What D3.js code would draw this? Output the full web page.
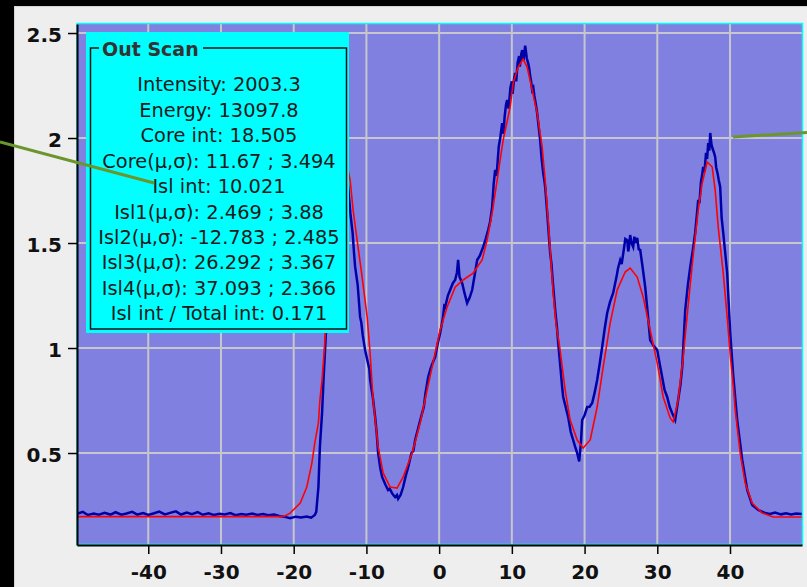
<!DOCTYPE html>
<html>
<head>
<meta charset="utf-8">
<script src="https://cdn.jsdelivr.net/npm/d3@7"></script>
<style>
  body { margin: 0; background: #000; }
  svg { display: block; }
</style>
</head>
<body>
<div id="chart"></div>
<script>
// measured scan (blue) as [position, value]
var scanPoints = [
  [-49.8, 0.21], [-49, 0.22], [-48.3, 0.205], [-47.5, 0.212], [-46.8, 0.206], [-46, 0.215],
  [-45.2, 0.207], [-44.5, 0.218], [-43.7, 0.206], [-43, 0.212], [-42.2, 0.22], [-41.5, 0.207],
  [-40.7, 0.214], [-40, 0.205], [-39.2, 0.213], [-38.5, 0.221], [-37.7, 0.208], [-37, 0.215],
  [-36.2, 0.222], [-35.5, 0.207], [-34.7, 0.216], [-34, 0.209], [-33.2, 0.219], [-32.5, 0.206],
  [-31.7, 0.213], [-31, 0.205], [-30.2, 0.211], [-29.5, 0.207], [-28.7, 0.214], [-28, 0.204],
  [-27.2, 0.21], [-26.5, 0.206], [-25.7, 0.212], [-25, 0.205], [-24.2, 0.21], [-23.5, 0.204],
  [-22.7, 0.207], [-22, 0.2], [-21.2, 0.196], [-20.5, 0.19], [-19.7, 0.197], [-19, 0.193],
  [-18.2, 0.198], [-17.6, 0.192], [-17.1, 0.205], [-16.9, 0.22], [-16.6, 0.338], [-16.4, 0.529],
  [-16.1, 0.69], [-15.9, 0.848], [-15.6, 1.05], [-15, 1.4], [-14, 1.75], [-13, 1.85], [-12.6, 1.8],
  [-12.2, 1.64], [-11.9, 1.55], [-11.7, 1.45], [-11.55, 1.386], [-11.2, 1.3], [-10.87, 1.148],
  [-10.7, 1.12], [-10.5, 1.06], [-10.18, 0.99], [-9.8, 0.93], [-9.6, 0.9], [-9.49, 0.848],
  [-9.1, 0.76], [-8.8, 0.671], [-8.6, 0.6], [-8.39, 0.5], [-8.1, 0.43], [-7.84, 0.386],
  [-7.4, 0.35], [-7.02, 0.324], [-6.8, 0.33], [-6.5, 0.31], [-6.3, 0.3], [-6.05, 0.29],
  [-5.8, 0.3], [-5.64, 0.282], [-5.3, 0.3], [-4.95, 0.338], [-4.6, 0.39], [-4.26, 0.433],
  [-3.8, 0.5], [-3.55, 0.51], [-3.3, 0.562], [-2.8, 0.63], [-2.34, 0.69], [-2.1, 0.72],
  [-1.9, 0.78], [-1.51, 0.862], [-1.2, 0.9], [-1, 0.92], [-0.55, 0.957], [-0.2, 1.02],
  [0.14, 1.071], [0.5, 1.14], [0.7, 1.2], [0.83, 1.195], [1.2, 1.25], [1.51, 1.276],
  [1.9, 1.31], [2.2, 1.324], [2.45, 1.36], [2.61, 1.42], [2.8, 1.34], [3.16, 1.31],
  [3.5, 1.26], [3.85, 1.214], [4.2, 1.24], [4.54, 1.276], [4.9, 1.35], [5.23, 1.419],
  [5.6, 1.44], [6.05, 1.481], [6.4, 1.52], [6.74, 1.562], [7.0, 1.6], [7.29, 1.671],
  [7.5, 1.78], [7.7, 1.848], [7.9, 1.82], [8.2, 1.96], [8.4, 2.0], [8.67, 2.071],
  [8.85, 2.02], [9.0, 2.1], [9.2, 2.16], [9.35, 2.181], [9.55, 2.14], [9.8, 2.24],
  [10.0, 2.27], [10.1, 2.21], [10.3, 2.28], [10.45, 2.31], [10.6, 2.27], [10.8, 2.36],
  [11.0, 2.39], [11.1, 2.34], [11.3, 2.4], [11.42, 2.419], [11.6, 2.37], [11.83, 2.44],
  [11.95, 2.41], [12.05, 2.38], [12.24, 2.357], [12.4, 2.33], [12.5, 2.3], [12.65, 2.27],
  [12.79, 2.229], [12.95, 2.24], [13.1, 2.2], [13.3, 2.16], [13.48, 2.119], [13.7, 2.05],
  [13.89, 1.99], [14.1, 1.9], [14.31, 1.833], [14.5, 1.79], [14.6, 1.76], [14.86, 1.643],
  [15.27, 1.452], [15.45, 1.4], [15.6, 1.33], [15.96, 1.181], [16.2, 1.1], [16.37, 1.024],
  [16.7, 0.9], [16.9, 0.82], [17.06, 0.767], [17.4, 0.72], [17.74, 0.671], [18.1, 0.6],
  [18.43, 0.562], [18.7, 0.53], [18.98, 0.5], [19.26, 0.46], [19.5, 0.55], [19.67, 0.657],
  [20.0, 0.68], [20.36, 0.719], [20.7, 0.72], [21.05, 0.738], [21.4, 0.79], [21.73, 0.848],
  [22.1, 0.93], [22.42, 1.005], [22.8, 1.1], [23.11, 1.167], [23.5, 1.22], [23.93, 1.262],
  [24.4, 1.34], [24.6, 1.38], [24.9, 1.419], [25.1, 1.4], [25.4, 1.47], [25.6, 1.52],
  [25.86, 1.514], [26.0, 1.46], [26.1, 1.48], [26.27, 1.538], [26.45, 1.5], [26.68, 1.481],
  [26.85, 1.53], [27.0, 1.5], [27.24, 1.524], [27.45, 1.47], [27.65, 1.467], [27.8, 1.43],
  [28.0, 1.38], [28.34, 1.29], [28.7, 1.16], [29.02, 1.038], [29.5, 1.01], [29.99, 0.99],
  [30.3, 0.93], [30.67, 0.862], [31.0, 0.8], [31.36, 0.767], [31.7, 0.72], [32.05, 0.69],
  [32.46, 0.657], [32.87, 0.752], [33.2, 0.83], [33.43, 0.91], [33.84, 1.181], [34.2, 1.3],
  [34.53, 1.386], [34.9, 1.47], [35.21, 1.548], [35.4, 1.62], [35.63, 1.705], [35.8, 1.69],
  [36.0, 1.79], [36.15, 1.82], [36.31, 1.862], [36.5, 1.84], [36.7, 1.93], [36.85, 1.9],
  [37.0, 1.976], [37.15, 1.94], [37.28, 2.024], [37.45, 1.97], [37.6, 1.95], [37.8, 1.93],
  [37.96, 1.91], [38.1, 1.86], [38.3, 1.83], [38.45, 1.8], [38.65, 1.767], [38.85, 1.62],
  [39.07, 1.548], [39.61, 1.357], [40.03, 1.071], [40.44, 0.871], [40.99, 0.657], [41.68, 0.467],
  [42.37, 0.324], [43.05, 0.252], [43.88, 0.229], [44.84, 0.214], [45.5, 0.21], [46.2, 0.216],
  [47, 0.208], [47.7, 0.213], [48.4, 0.207], [49.1, 0.212], [49.9, 0.21]
];

// fitted curve (red) as [position, value]
var fitPoints = [
  [-49.8, 0.197], [-22, 0.197], [-21.2, 0.2], [-20.5, 0.214], [-19.1, 0.262], [-18.2, 0.338],
  [-17.5, 0.452], [-17.1, 0.548], [-16.6, 0.643], [-16.4, 0.752], [-16.1, 0.848], [-15.8, 0.99],
  [-15.5, 1.13], [-14.5, 1.5], [-13.5, 1.85], [-13, 1.88], [-12.6, 1.86], [-12.24, 1.8],
  [-11.83, 1.657], [-11.28, 1.514], [-10.59, 1.338], [-9.9, 1.148], [-9.5, 0.98], [-9.08, 0.752],
  [-8.39, 0.529], [-7.7, 0.405], [-6.74, 0.338], [-5.78, 0.333], [-4.95, 0.386], [-3.71, 0.5],
  [-2.61, 0.643], [-1.65, 0.8], [-0.55, 0.976], [0.14, 1.086], [1.1, 1.195], [2.2, 1.29],
  [3.3, 1.324], [4.68, 1.357], [5.91, 1.419], [6.6, 1.514], [7.29, 1.643], [7.98, 1.8],
  [8.8, 1.99], [9.77, 2.148], [10.18, 2.262], [10.87, 2.338], [11.55, 2.376], [12.1, 2.338],
  [12.79, 2.229], [13.48, 2.119], [14.17, 1.957], [14.58, 1.8], [14.99, 1.61], [15.27, 1.467],
  [15.68, 1.262], [16.09, 1.11], [16.64, 0.99], [17.33, 0.8], [18.02, 0.657], [18.98, 0.562],
  [19.81, 0.524], [20.77, 0.562], [21.73, 0.719], [22.56, 0.91], [23.52, 1.119], [24.48, 1.276],
  [25.58, 1.362], [26.27, 1.381], [27.24, 1.338], [28.06, 1.243], [29.02, 1.086], [29.99, 0.929],
  [30.81, 0.767], [31.77, 0.667], [32.19, 0.648], [32.87, 0.752], [33.56, 0.957], [34.25, 1.205],
  [34.94, 1.443], [35.63, 1.657], [36.18, 1.786], [36.86, 1.886], [37.55, 1.862], [37.96, 1.752],
  [38.38, 1.576], [39.07, 1.357], [39.61, 1.148], [40.03, 0.967], [40.44, 0.824], [40.72, 0.705],
  [41.4, 0.5], [42.09, 0.357], [43.05, 0.262], [44.43, 0.214], [45.94, 0.195], [49.9, 0.195]
];

var xTicks = [-40, -30, -20, -10, 0, 10, 20, 30, 40];
var yTicks = [0.5, 1, 1.5, 2, 2.5];
var boxTitle = "Out Scan";
var boxLines = [
  "Intensity: 2003.3",
  "Energy: 13097.8",
  "Core int: 18.505",
  "Core(\u03bc,\u03c3): 11.67 ; 3.494",
  "Isl int: 10.021",
  "Isl1(\u03bc,\u03c3): 2.469 ; 3.88",
  "Isl2(\u03bc,\u03c3): -12.783 ; 2.485",
  "Isl3(\u03bc,\u03c3): 26.292 ; 3.367",
  "Isl4(\u03bc,\u03c3): 37.093 ; 2.366",
  "Isl int / Total int: 0.171"
];

function init() {
    var w = 807;
    var h = 587;
    var left = 77, right = 802, top = 24, bottom = 545;

    var svg = d3.select("#chart")
            .append("svg")
            .attr("width", w)
            .attr("height", h);

    // grey panel behind the plot
    svg.append("rect")
        .attr("x", 14.5).attr("y", 6.5)
        .attr("width", 800).attr("height", 600)
        .style("fill", "#eeeeee")
        .style("stroke", "#d4d4d4");

    var x = d3.scaleLinear().domain([-49.8, 49.9]).range([left, right]);
    var y = d3.scaleLinear().domain([0.062, 2.543]).range([bottom, top]);

    svg.append("rect")
        .attr("x", left).attr("y", top)
        .attr("width", right - left).attr("height", bottom - top)
        .style("fill", "#8080e0");

    // grid
    svg.append("g").selectAll("line")
        .data(xTicks).enter().append("line")
        .attr("x1", function(d) { return x(d); })
        .attr("x2", function(d) { return x(d); })
        .attr("y1", top).attr("y2", bottom)
        .style("stroke", "#c6c6cc").style("stroke-width", 2);
    svg.append("g").selectAll("line")
        .data(yTicks).enter().append("line")
        .attr("y1", function(d) { return y(d); })
        .attr("y2", function(d) { return y(d); })
        .attr("x1", left).attr("x2", right)
        .style("stroke", "#c6c6cc").style("stroke-width", 2);

    svg.append("clipPath").attr("id", "plotclip")
        .append("rect")
        .attr("x", left).attr("y", top)
        .attr("width", right - left).attr("height", bottom - top);

    var line = d3.line()
        .x(function(d) { return x(d[0]); })
        .y(function(d) { return y(d[1]); });

    var curves = svg.append("g").attr("clip-path", "url(#plotclip)");
    curves.append("path")
        .attr("d", line(scanPoints))
        .style("fill", "none")
        .style("stroke", "#0000a8")
        .style("stroke-width", 2.5)
        .style("stroke-linejoin", "miter");
    curves.append("path")
        .attr("d", line(fitPoints))
        .style("fill", "none")
        .style("stroke", "#ff0000")
        .style("stroke-width", 1.6);

    // cyan frame
    svg.append("rect")
        .attr("x", left).attr("y", top - 0.5)
        .attr("width", right - left + 0.5).attr("height", bottom - top)
        .style("fill", "none")
        .style("stroke", "#00ffff")
        .style("stroke-width", 1.5);

    // axes
    var yAxis = d3.axisLeft(y)
        .tickValues(yTicks)
        .tickSize(9)
        .tickSizeOuter(0)
        .tickPadding(6)
        .tickFormat(function(d) { return String(d); });
    var xAxis = d3.axisBottom(x)
        .tickValues(xTicks)
        .tickSize(9)
        .tickSizeOuter(0)
        .tickPadding(11)
        .tickFormat(function(d) { return String(d); });

    var gy = svg.append("g").attr("transform", "translate(" + left + ",0)").call(yAxis);
    var gx = svg.append("g").attr("transform", "translate(0," + bottom + ")").call(xAxis);
    [gx, gy].forEach(function(g) {
        g.select(".domain").style("stroke", "#000").style("stroke-width", 2);
        g.selectAll(".tick line").style("stroke", "#000").style("stroke-width", 1.5);
        g.selectAll(".tick text")
            .style("font-family", "DejaVu Sans")
            .style("font-weight", "bold")
            .style("font-size", "20px")
            .style("fill", "#111");
    });
    gy.selectAll(".tick text").attr("dy", "0.42em");

    // info box
    var box = svg.append("g");
    box.append("rect")
        .attr("x", 86).attr("y", 32)
        .attr("width", 263).attr("height", 301)
        .style("fill", "#00ffff");
    box.append("rect")
        .attr("x", 90.5).attr("y", 48)
        .attr("width", 256).attr("height", 281)
        .style("fill", "none")
        .style("stroke", "#111")
        .style("stroke-width", 1.5);
    box.append("rect")
        .attr("x", 99).attr("y", 40)
        .attr("width", 104).attr("height", 16)
        .style("fill", "#00ffff");
    box.append("text")
        .attr("x", 102).attr("y", 55.5)
        .text(boxTitle)
        .style("font-family", "DejaVu Sans")
        .style("font-weight", "bold")
        .style("font-size", "19px")
        .style("fill", "#333");
    box.selectAll("text.info")
        .data(boxLines).enter().append("text")
        .attr("class", "info")
        .attr("x", 219)
        .attr("y", function(d, i) { return 84.3 + i * 25.45; })
        .attr("dy", "0.36em")
        .attr("text-anchor", "middle")
        .text(function(d) { return d; })
        .style("font-family", "DejaVu Sans")
        .style("font-size", "19.4px")
        .style("fill", "#1a1a1a");

    // green pointer lines
    svg.append("line")
        .attr("x1", 0).attr("y1", 142)
        .attr("x2", 154).attr("y2", 183)
        .style("stroke", "#6a962c").style("stroke-width", 3);
    svg.append("line")
        .attr("x1", 733).attr("y1", 137)
        .attr("x2", 807).attr("y2", 132.5)
        .style("stroke", "#6a962c").style("stroke-width", 3);
}

window.onload = init;
</script>
</body>
</html>
